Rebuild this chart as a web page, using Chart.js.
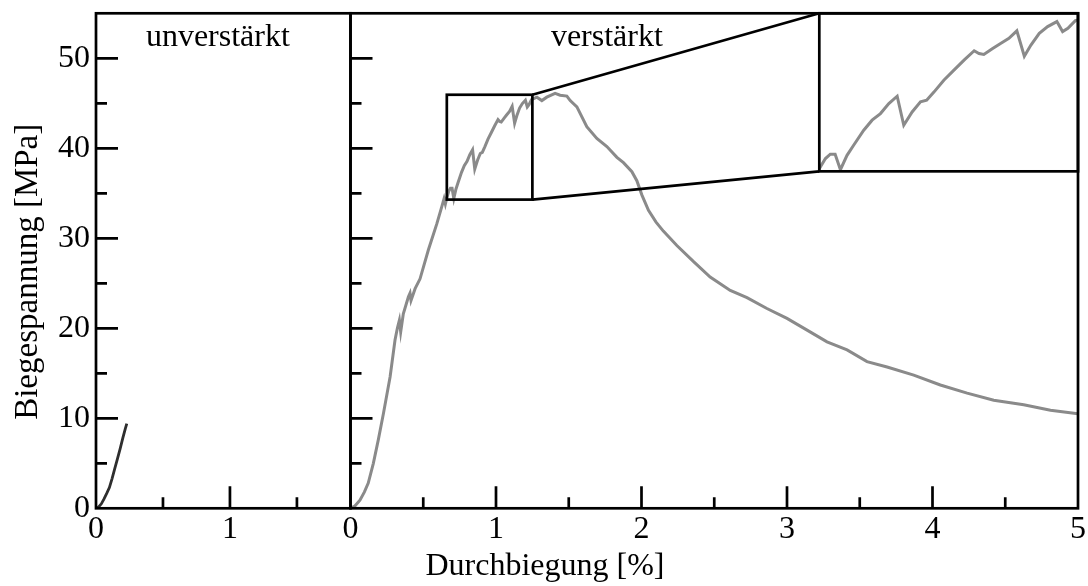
<!DOCTYPE html>
<html lang="de">
<head>
<meta charset="utf-8">
<title>Biegespannung über Durchbiegung</title>
<script src="https://cdn.jsdelivr.net/npm/chart.js@4.4.1/dist/chart.umd.min.js"></script>
<style>
  html, body { margin: 0; padding: 0; background: #fff; }
  #wrap { position: relative; width: 1088px; height: 586px; }
</style>
</head>
<body>
<div id="wrap"><canvas id="chart"></canvas></div>
<script>
const SERIF = "'Liberation Serif', 'Times New Roman', 'DejaVu Serif', serif";

// Probe ohne Verstärkung: Durchbiegung [%] / Biegespannung [MPa]
const unverstaerktX = [0, 0.02, 0.04, 0.06, 0.08, 0.10, 0.12, 0.14, 0.16, 0.18, 0.20, 0.22, 0.23];
const unverstaerktY = [0, 0.15, 0.5, 1.05, 1.65, 2.3, 3.3, 4.4, 5.5, 6.6, 7.8, 8.9, 9.4];

// Probe mit Verstärkung
const verstaerktX = [
  0, 0.03, 0.065, 0.095, 0.122, 0.157, 0.191, 0.226, 0.272, 0.306,
  0.322, 0.336, 0.345, 0.363, 0.398, 0.409, 0.416, 0.444, 0.478, 0.535,
  0.593, 0.627, 0.643, 0.652, 0.662, 0.676, 0.687, 0.698, 0.710, 0.725,
  0.740, 0.763, 0.782, 0.801, 0.820, 0.839, 0.854, 0.873, 0.892, 0.906,
  0.923, 0.945, 0.968, 0.991, 1.014, 1.025, 1.036, 1.056, 1.074, 1.093,
  1.111, 1.128, 1.143, 1.162, 1.181, 1.202, 1.215, 1.227, 1.244, 1.281,
  1.315, 1.349, 1.406, 1.441, 1.487, 1.510, 1.556, 1.624, 1.693, 1.762,
  1.831, 1.876, 1.934, 1.968, 2.003, 2.048, 2.10, 2.15, 2.243, 2.358,
  2.472, 2.610, 2.725, 2.862, 3.000, 3.138, 3.275, 3.413, 3.550, 3.688,
  3.871, 4.054, 4.238, 4.421, 4.627, 4.811, 5.0
];
const verstaerktY = [
  0, 0.25, 0.9, 1.8, 2.8, 5.0, 7.6, 10.5, 14.6, 18.7,
  20.0, 20.9, 19.6, 21.6, 23.5, 23.9, 23.1, 24.4, 25.5, 28.7,
  31.6, 33.5, 34.4, 33.8, 34.5, 35.24, 35.56, 35.56, 34.42, 35.48,
  36.22, 37.33, 38.07, 38.56, 39.30, 39.84, 37.70, 38.68, 39.42, 39.54,
  40.16, 41.02, 41.76, 42.50, 43.19, 42.99, 42.92, 43.36, 43.73, 44.10,
  44.66, 42.79, 43.61, 44.47, 44.97, 45.34, 44.60, 44.85, 45.41, 45.68,
  45.3, 45.68, 46.1, 45.9, 45.8, 45.3, 44.6, 42.4, 41.1, 40.2,
  39.0, 38.4, 37.4, 36.4, 34.8, 33.1, 31.8, 30.8, 29.2, 27.4,
  25.7, 24.2, 23.4, 22.2, 21.1, 19.8, 18.5, 17.6, 16.3, 15.7,
  14.8, 13.7, 12.8, 12.0, 11.5, 10.9, 10.5
];

const panelTitles = ['unverstärkt', 'verstärkt'];
const yTitle = 'Biegespannung [MPa]';
const xTitle = 'Durchbiegung [%]';
const yRange = [0, 55];
const yTickStep = 5;
const yLabelStep = 10;
const xRangeLeft = [0, 1.9];
const xRangeRight = [0, 5];
const xTickStep = 0.5;
// vergrößerter Ausschnitt (Durchbiegung, Spannung)
const zoomX = [0.662, 1.25];
const zoomY = [34.3, 45.95];

const toPoints = (xs, ys) => xs.map((x, i) => ({ x, y: ys[i] }));

const tickFont = { family: SERIF, size: 32, weight: 'normal', lineHeight: 1.2 };

// Achsen ohne eigenen Randabstand, damit der Zeichenbereich fest bleibt
function noScalePadding(s) {
  s.paddingTop = 0;
  s.paddingBottom = 0;
  s.paddingLeft = 0;
  s.paddingRight = 0;
}

function xAxis(range, weight) {
  return {
    type: 'linear',
    position: 'bottom',
    stack: 'panels',
    stackWeight: weight,
    min: range[0],
    max: range[1],
    grid: { display: false, drawTicks: false },
    border: { display: false },
    ticks: {
      stepSize: xTickStep,
      includeBounds: false,
      autoSkip: false,
      maxRotation: 0,
      minRotation: 0,
      padding: 2,
      color: '#000',
      font: tickFont,
      callback: v => Number.isInteger(v) ? String(v) : ''
    },
    afterFit: s => { s.height = 39.3; noScalePadding(s); }
  };
}

// Lage des Vergrößerungsfensters im rechten Diagramm
const insetCorner = { x: 3.222, y: 37.44 };

const insetLayout = {
  id: 'insetLayout',
  afterLayout(chart) {
    const { xR, y, xZoom, yZoom } = chart.scales;
    xZoom.left = xR.getPixelForValue(insetCorner.x);
    xZoom.right = xR.right;
    xZoom.width = xZoom.right - xZoom.left;
    xZoom.configure();
    yZoom.top = y.top;
    yZoom.bottom = y.getPixelForValue(insetCorner.y);
    yZoom.height = yZoom.bottom - yZoom.top;
    yZoom.configure();
  }
};

const clipToScales = {
  id: 'clipToScales',
  beforeDatasetDraw(chart, args) {
    const { xScale, yScale } = args.meta;
    const ctx = chart.ctx;
    ctx.save();
    ctx.beginPath();
    ctx.rect(xScale.left, yScale.top, xScale.right - xScale.left, yScale.bottom - yScale.top);
    ctx.clip();
  },
  afterDatasetDraw(chart) {
    chart.ctx.restore();
  }
};

const frames = {
  id: 'frames',
  afterDatasetsDraw(chart) {
    const { ctx } = chart;
    const { y, xL, xR, xZoom, yZoom } = chart.scales;
    ctx.save();
    ctx.strokeStyle = '#000';
    ctx.lineWidth = 2.7;

    // nach innen gerichtete Teilstriche
    ctx.beginPath();
    for (const xs of [xL, xR]) {
      for (const t of y.ticks) {
        if (t.value <= y.min || t.value >= y.max) continue;
        const py = y.getPixelForValue(t.value);
        const len = t.value % yLabelStep === 0 ? 22 : 11;
        ctx.moveTo(xs.left, py);
        ctx.lineTo(xs.left + len, py);
      }
      for (const t of xs.ticks) {
        if (t.value <= xs.min || t.value >= xs.max) continue;
        const px = xs.getPixelForValue(t.value);
        const len = Number.isInteger(t.value) ? 22 : 11;
        ctx.moveTo(px, y.bottom);
        ctx.lineTo(px, y.bottom - len);
      }
    }
    ctx.stroke();

    // Rahmen beider Teildiagramme
    ctx.strokeRect(xL.left, y.top, xL.right - xL.left, y.bottom - y.top);
    ctx.strokeRect(xR.left, y.top, xR.right - xR.left, y.bottom - y.top);

    // markierter Ausschnitt
    const bx0 = xR.getPixelForValue(zoomX[0]);
    const bx1 = xR.getPixelForValue(zoomX[1]);
    const by0 = y.getPixelForValue(zoomY[1]);
    const by1 = y.getPixelForValue(zoomY[0]);
    ctx.strokeRect(bx0, by0, bx1 - bx0, by1 - by0);

    // Vergrößerung
    ctx.strokeRect(xZoom.left, yZoom.top, xZoom.right - xZoom.left, yZoom.bottom - yZoom.top);

    // Verbindungslinien
    ctx.beginPath();
    ctx.moveTo(bx1, by0);
    ctx.lineTo(xZoom.left, yZoom.top);
    ctx.moveTo(bx1, by1);
    ctx.lineTo(xZoom.left, yZoom.bottom);
    ctx.stroke();

    // Beschriftung der Teildiagramme
    ctx.fillStyle = '#000';
    ctx.font = `32px ${SERIF}`;
    ctx.textAlign = 'center';
    ctx.textBaseline = 'alphabetic';
    ctx.fillText(panelTitles[0], xL.getPixelForValue(0.91), y.getPixelForValue(51.4));
    ctx.fillText(panelTitles[1], xR.getPixelForValue(1.762), y.getPixelForValue(51.4));

    // Achsentitel der Spannungsachse, etwas unterhalb der Mitte
    ctx.font = `33px ${SERIF}`;
    ctx.textBaseline = 'middle';
    ctx.translate(y.left + 16, (y.top + y.bottom) / 2 + 11);
    ctx.rotate(-Math.PI / 2);
    ctx.fillText(yTitle, 0, 0);
    ctx.restore();
  }
};

new Chart(document.getElementById('chart'), {
  type: 'scatter',
  data: {
    datasets: [
      {
        label: panelTitles[0],
        data: toPoints(unverstaerktX, unverstaerktY),
        xAxisID: 'xL', yAxisID: 'y',
        showLine: true, pointRadius: 0,
        borderColor: '#2e2e2e', borderWidth: 2.8
      },
      {
        label: panelTitles[1],
        data: toPoints(verstaerktX, verstaerktY),
        xAxisID: 'xR', yAxisID: 'y',
        showLine: true, pointRadius: 0,
        borderColor: '#8a8a8a', borderWidth: 3
      },
      {
        label: panelTitles[1] + ' (Ausschnitt)',
        data: toPoints(verstaerktX, verstaerktY),
        xAxisID: 'xZoom', yAxisID: 'yZoom',
        showLine: true, pointRadius: 0,
        borderColor: '#8a8a8a', borderWidth: 3
      }
    ]
  },
  options: {
    responsive: true,
    maintainAspectRatio: false,
    animation: false,
    events: [],
    layout: { padding: { top: 13.3, right: 10, bottom: 0, left: 12 } },
    plugins: {
      legend: { display: false },
      tooltip: { enabled: false },
      title: {
        display: true,
        position: 'bottom',
        text: xTitle,
        color: '#000',
        font: { family: SERIF, size: 32, weight: 'normal', lineHeight: 1.2 },
        padding: 0
      }
    },
    scales: {
      y: {
        type: 'linear',
        position: 'left',
        min: yRange[0],
        max: yRange[1],
        grid: { display: false, drawTicks: false },
        border: { display: false },
        ticks: {
          stepSize: yTickStep,
          autoSkip: false,
          padding: 6,
          color: '#000',
          font: tickFont,
          callback: v => v % yLabelStep === 0 ? String(v) : ''
        },
        title: { display: false },
        afterFit: s => { s.width = 84; noScalePadding(s); }
      },
      xL: xAxis(xRangeLeft, 254.5),
      xR: xAxis(xRangeRight, 727.5),
      xZoom: { type: 'linear', display: false, position: 'top', min: zoomX[0], max: zoomX[1] },
      yZoom: { type: 'linear', display: false, position: 'right', min: zoomY[0], max: zoomY[1] }
    }
  },
  plugins: [insetLayout, clipToScales, frames]
});
</script>
</body>
</html>
